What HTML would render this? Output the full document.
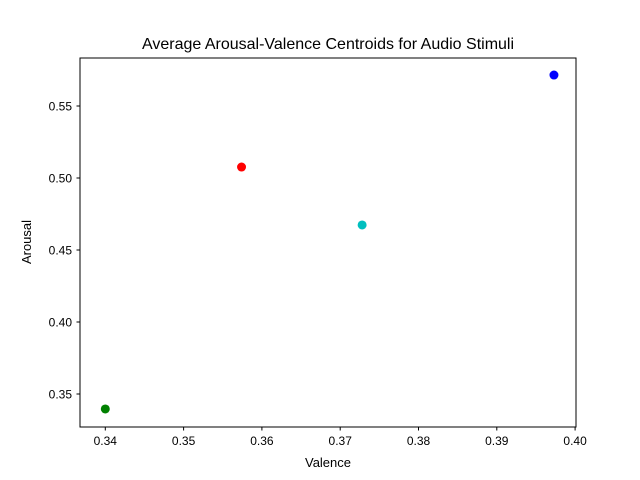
<!DOCTYPE html>
<html><head><meta charset="utf-8"><style>body{margin:0;background:#fff}svg{display:block;font-family:"Liberation Sans","DejaVu Sans",sans-serif}</style></head>
<body>
<svg id="chart" width="640" height="480">
<rect x="0" y="0" width="640" height="480" fill="#fff"/>
<text x="328" y="49" font-size="16" text-anchor="middle">Average Arousal-Valence Centroids for Audio Stimuli</text>
<g id="xticks"></g>
<g id="yticks"></g>
<g id="points"></g>
<rect x="80" y="58" width="496" height="369" fill="none" stroke="#000" stroke-width="1"/>
<text x="328" y="467" font-size="13" text-anchor="middle">Valence</text>
<text x="31" y="242" font-size="13" text-anchor="middle" transform="rotate(-90 31 242)">Arousal</text>
</svg>
<script>
const valence=[0.3400,0.3574,0.3728,0.3973];
const arousal=[0.3396,0.5076,0.4674,0.5715];
const colors=['green','red','#00bfbf','blue'];
const xTickVals=[0.34,0.35,0.36,0.37,0.38,0.39,0.40];
const xTickLabels=['0.34','0.35','0.36','0.37','0.38','0.39','0.40'];
const yTickVals=[0.35,0.40,0.45,0.50,0.55];
const yTickLabels=['0.35','0.40','0.45','0.50','0.55'];
const NS='http://www.w3.org/2000/svg';
function sx(v){return 105.3+(v-0.34)*7830;}
function sy(v){return 394-(v-0.35)*1440;}
function mk(t,a){const e=document.createElementNS(NS,t);for(const k in a)e.setAttribute(k,a[k]);return e;}
const gx=document.getElementById('xticks');
xTickVals.forEach((v,i)=>{const x=sx(v);
const l=mk('line',{x1:x,x2:x,y1:427,y2:430.5,stroke:'#000'});


gx.appendChild(l);
const t=mk('text',{x:x,y:445,'font-size':12,'text-anchor':'middle'});t.textContent=xTickLabels[i];


gx.appendChild(t);});
const gy=document.getElementById('yticks');
yTickVals.forEach((v,i)=>{const y=sy(v);
const l=mk('line',{x1:76.5,x2:80,y1:y,y2:y,stroke:'#000'});


gy.appendChild(l);
const t=mk('text',{x:72,y:y+4.5,'font-size':12,'text-anchor':'end'});t.textContent=yTickLabels[i];


gy.appendChild(t);});
const gp=document.getElementById('points');
valence.forEach((v,i)=>{const c=mk('circle',{cx:sx(v),cy:sy(arousal[i]),r:4.5,fill:colors[i]});


gp.appendChild(c);});
</script>
</body></html>
